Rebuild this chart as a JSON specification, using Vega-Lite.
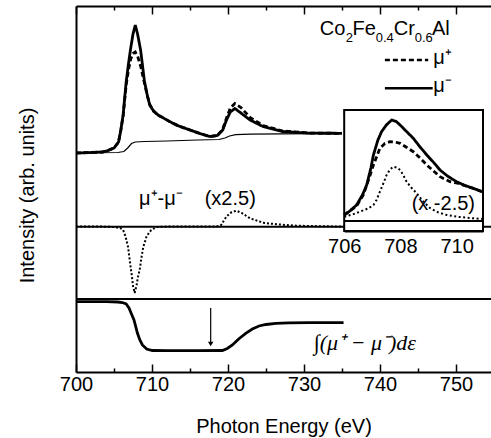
{
  "$schema": "https://vega.github.io/schema/vega-lite/v6.json",
  "width": 415,
  "height": 366,
  "autosize": {"type": "none"},
  "padding": {"left": 76, "top": 6, "right": 0, "bottom": 66},
  "background": "white",
  "config": {
    "view": {"stroke": null},
    "font": "Liberation Sans",
    "axis": {"zindex": 1, "grid": false, "domainColor": "black", "tickColor": "black", "labelColor": "black", "titleColor": "black", "labelFont": "Liberation Sans", "titleFont": "Liberation Sans"}
  },
  "datasets": {
    "mu": [
      {"E":700,"I":219,"pol":"μ⁻"},{"E":702,"I":219.5,"pol":"μ⁻"},{"E":703.5,"I":220,"pol":"μ⁻"},{"E":704.2,"I":221.5,"pol":"μ⁻"},{"E":705,"I":224,"pol":"μ⁻"},{"E":705.6,"I":230,"pol":"μ⁻"},{"E":705.9,"I":242,"pol":"μ⁻"},{"E":706.2,"I":257,"pol":"μ⁻"},{"E":706.6,"I":290,"pol":"μ⁻"},{"E":706.9,"I":308,"pol":"μ⁻"},{"E":707.2,"I":324,"pol":"μ⁻"},{"E":707.5,"I":338,"pol":"μ⁻"},{"E":707.8,"I":347,"pol":"μ⁻"},{"E":708.1,"I":338,"pol":"μ⁻"},{"E":708.5,"I":322,"pol":"μ⁻"},{"E":709,"I":291,"pol":"μ⁻"},{"E":709.4,"I":276,"pol":"μ⁻"},{"E":709.7,"I":267,"pol":"μ⁻"},{"E":710.2,"I":261,"pol":"μ⁻"},{"E":710.8,"I":257,"pol":"μ⁻"},{"E":711.5,"I":254,"pol":"μ⁻"},{"E":712.3,"I":250.5,"pol":"μ⁻"},{"E":713.5,"I":246,"pol":"μ⁻"},{"E":715,"I":242,"pol":"μ⁻"},{"E":716.5,"I":238,"pol":"μ⁻"},{"E":717.6,"I":235.5,"pol":"μ⁻"},{"E":718.6,"I":236.5,"pol":"μ⁻"},{"E":719.3,"I":242,"pol":"μ⁻"},{"E":719.8,"I":252,"pol":"μ⁻"},{"E":720.3,"I":260,"pol":"μ⁻"},{"E":720.9,"I":263.5,"pol":"μ⁻"},{"E":721.7,"I":259,"pol":"μ⁻"},{"E":722.9,"I":252,"pol":"μ⁻"},{"E":724.6,"I":245.5,"pol":"μ⁻"},{"E":727.2,"I":240.5,"pol":"μ⁻"},{"E":730.8,"I":238.8,"pol":"μ⁻"},{"E":735,"I":238.7,"pol":"μ⁻"},
      {"E":700,"I":219,"pol":"μ⁺"},{"E":702,"I":219.5,"pol":"μ⁺"},{"E":703.5,"I":220,"pol":"μ⁺"},{"E":704.2,"I":221.5,"pol":"μ⁺"},{"E":705,"I":224,"pol":"μ⁺"},{"E":705.6,"I":230,"pol":"μ⁺"},{"E":705.9,"I":242,"pol":"μ⁺"},{"E":706.2,"I":256,"pol":"μ⁺"},{"E":706.6,"I":287,"pol":"μ⁺"},{"E":706.9,"I":302,"pol":"μ⁺"},{"E":707.2,"I":313,"pol":"μ⁺"},{"E":707.5,"I":318.5,"pol":"μ⁺"},{"E":707.8,"I":320,"pol":"μ⁺"},{"E":708.1,"I":316,"pol":"μ⁺"},{"E":708.5,"I":306,"pol":"μ⁺"},{"E":709,"I":289,"pol":"μ⁺"},{"E":709.4,"I":276,"pol":"μ⁺"},{"E":709.7,"I":267.5,"pol":"μ⁺"},{"E":710.2,"I":261,"pol":"μ⁺"},{"E":710.8,"I":257,"pol":"μ⁺"},{"E":711.5,"I":254,"pol":"μ⁺"},{"E":712.3,"I":250.5,"pol":"μ⁺"},{"E":713.5,"I":246,"pol":"μ⁺"},{"E":715,"I":242,"pol":"μ⁺"},{"E":716.5,"I":238,"pol":"μ⁺"},{"E":717.6,"I":235.5,"pol":"μ⁺"},{"E":718.6,"I":236.5,"pol":"μ⁺"},{"E":719.3,"I":242.5,"pol":"μ⁺"},{"E":719.8,"I":254,"pol":"μ⁺"},{"E":720.3,"I":264,"pol":"μ⁺"},{"E":720.9,"I":268.5,"pol":"μ⁺"},{"E":721.7,"I":264.5,"pol":"μ⁺"},{"E":722.9,"I":254.5,"pol":"μ⁺"},{"E":724.6,"I":246.5,"pol":"μ⁺"},{"E":727.2,"I":241,"pol":"μ⁺"},{"E":730.8,"I":238.9,"pol":"μ⁺"},{"E":735,"I":238.7,"pol":"μ⁺"}
    ],
    "bg": [
      {"E":700,"I":219},{"E":705.5,"I":219.5},{"E":706.3,"I":220.5},{"E":706.8,"I":224},{"E":707.3,"I":228.5},{"E":707.8,"I":230},{"E":709,"I":230.5},{"E":712,"I":231},{"E":716,"I":232},{"E":718.8,"I":232.5},{"E":719.6,"I":234},{"E":720.2,"I":236},{"E":721,"I":237.3},{"E":723,"I":237.8},{"E":727,"I":238.2},{"E":735,"I":238.7}
    ],
    "diff": [
      {"E":700,"I":145.5},{"E":703,"I":145.5},{"E":705,"I":145},{"E":705.8,"I":144},{"E":706.2,"I":142},{"E":706.5,"I":136},{"E":706.85,"I":125},{"E":707.1,"I":110},{"E":707.3,"I":99},{"E":707.5,"I":86},{"E":707.72,"I":79},{"E":707.95,"I":86},{"E":708.15,"I":95},{"E":708.4,"I":103},{"E":708.6,"I":114},{"E":708.85,"I":125},{"E":709.3,"I":136},{"E":709.9,"I":142},{"E":710.6,"I":145},{"E":712,"I":145.5},{"E":716,"I":145.5},{"E":718.5,"I":145.5},{"E":719.1,"I":147},{"E":719.5,"I":152},{"E":719.8,"I":155.5},{"E":720.4,"I":159.5},{"E":721.1,"I":161.3},{"E":721.8,"I":159},{"E":722.9,"I":153.7},{"E":724.6,"I":149.3},{"E":726.4,"I":147.7},{"E":729,"I":146.3},{"E":732,"I":145.8},{"E":735,"I":145.5}
    ],
    "integ": [
      {"E":700,"I":70.3},{"E":704,"I":70.3},{"E":705.5,"I":70},{"E":706.1,"I":69.5},{"E":706.6,"I":68},{"E":706.97,"I":64},{"E":707.3,"I":58},{"E":707.63,"I":52},{"E":708.08,"I":39},{"E":708.4,"I":32},{"E":708.74,"I":27},{"E":709.3,"I":23},{"E":710.05,"I":21.5},{"E":712,"I":21.3},{"E":716,"I":21.3},{"E":719.26,"I":21.5},{"E":719.9,"I":23.5},{"E":720.58,"I":27},{"E":721.4,"I":33},{"E":722.33,"I":38.7},{"E":723.2,"I":43},{"E":724.08,"I":46},{"E":725,"I":47.5},{"E":726.28,"I":48.7},{"E":728,"I":49.2},{"E":730.66,"I":49.4},{"E":735.2,"I":49.4}
    ],
    "imu": [
      {"E":706,"I":157,"pol":"μ⁻"},{"E":706.2,"I":161,"pol":"μ⁻"},{"E":706.44,"I":167,"pol":"μ⁻"},{"E":706.65,"I":177,"pol":"μ⁻"},{"E":706.8,"I":187,"pol":"μ⁻"},{"E":706.95,"I":204,"pol":"μ⁻"},{"E":707.04,"I":217,"pol":"μ⁻"},{"E":707.2,"I":232,"pol":"μ⁻"},{"E":707.33,"I":240.3,"pol":"μ⁻"},{"E":707.5,"I":247,"pol":"μ⁻"},{"E":707.69,"I":252,"pol":"μ⁻"},{"E":707.85,"I":250.5,"pol":"μ⁻"},{"E":707.99,"I":247,"pol":"μ⁻"},{"E":708.2,"I":241,"pol":"μ⁻"},{"E":708.46,"I":233.7,"pol":"μ⁻"},{"E":708.7,"I":225,"pol":"μ⁻"},{"E":708.94,"I":217,"pol":"μ⁻"},{"E":709.2,"I":209,"pol":"μ⁻"},{"E":709.41,"I":202,"pol":"μ⁻"},{"E":709.7,"I":195.5,"pol":"μ⁻"},{"E":710,"I":190.3,"pol":"μ⁻"},{"E":710.3,"I":186.5,"pol":"μ⁻"},{"E":710.59,"I":183.7,"pol":"μ⁻"},{"E":710.94,"I":180,"pol":"μ⁻"},
      {"E":706,"I":157,"pol":"μ⁺"},{"E":706.44,"I":166,"pol":"μ⁺"},{"E":706.68,"I":177,"pol":"μ⁺"},{"E":706.9,"I":195,"pol":"μ⁺"},{"E":707.04,"I":207,"pol":"μ⁺"},{"E":707.27,"I":223.7,"pol":"μ⁺"},{"E":707.45,"I":228.5,"pol":"μ⁺"},{"E":707.63,"I":230.3,"pol":"μ⁺"},{"E":707.8,"I":230,"pol":"μ⁺"},{"E":707.99,"I":228.7,"pol":"μ⁺"},{"E":708.2,"I":225,"pol":"μ⁺"},{"E":708.46,"I":220.3,"pol":"μ⁺"},{"E":708.7,"I":214,"pol":"μ⁺"},{"E":708.94,"I":207,"pol":"μ⁺"},{"E":709.2,"I":200.5,"pol":"μ⁺"},{"E":709.41,"I":195.3,"pol":"μ⁺"},{"E":709.77,"I":190.3,"pol":"μ⁺"},{"E":710,"I":189,"pol":"μ⁺"},{"E":710.3,"I":186.3,"pol":"μ⁺"},{"E":710.59,"I":183.6,"pol":"μ⁺"},{"E":710.94,"I":180,"pol":"μ⁺"}
    ],
    "idiff": [
      {"E":706,"I":155.3},{"E":706.3,"I":157.5},{"E":706.56,"I":160.3},{"E":706.85,"I":163.5},{"E":707.04,"I":167},{"E":707.15,"I":172},{"E":707.27,"I":180.3},{"E":707.4,"I":189},{"E":707.51,"I":197},{"E":707.63,"I":202.5},{"E":707.75,"I":205.3},{"E":707.87,"I":204.5},{"E":707.99,"I":202},{"E":708.1,"I":197},{"E":708.22,"I":190.3},{"E":708.4,"I":184},{"E":708.58,"I":178.7},{"E":708.8,"I":171},{"E":709.05,"I":164},{"E":709.35,"I":159.5},{"E":709.65,"I":157},{"E":710.1,"I":155},{"E":710.59,"I":153.7},{"E":710.94,"I":153}
    ]
  },
  "layer": [
    {
      "layer": [
        {
          "data": {"values": [{"base": 145.3}, {"base": 73}]},
          "mark": {"type": "rule", "strokeWidth": 2, "color": "black"},
          "encoding": {"y": {"field": "base", "type": "quantitative", "scale": {"domain": [0, 366]},
            "axis": {"orient": "left", "ticks": false, "labels": false, "domain": true, "domainWidth": 2, "title": "Intensity (arb. units)", "titleFontSize": 20, "titleFontWeight": "normal", "titlePadding": 39, "titleY": 189}}}
        },
        {
          "data": {"name": "bg"},
          "mark": {"type": "line", "strokeWidth": 1.2, "color": "black"},
          "encoding": {
            "x": {"field": "E", "type": "quantitative", "scale": {"domain": [700, 754.6], "nice": false, "zero": false},
              "axis": {"orient": "bottom", "values": [700,705,710,715,720,725,730,735,740,745,750], "labelExpr": "datum.value % 10 == 0 ? datum.label : ''", "tickSize": {"condition": {"test": "datum.value % 10 == 0", "value": -8}, "value": -4}, "tickWidth": 1.5, "domainWidth": 2, "labelFontSize": 20, "labelPadding": 10, "labelFlush": false, "labelOverlap": false, "title": "Photon Energy (eV)", "titleFontSize": 20, "titleFontWeight": "normal", "titlePadding": 18}},
            "y": {"field": "I", "type": "quantitative", "scale": {"domain": [0, 366]}}
          }
        },
        {
          "data": {"name": "mu"},
          "mark": {"type": "line", "strokeWidth": 2.8, "color": "black"},
          "encoding": {
            "x": {"field": "E", "type": "quantitative", "scale": {"domain": [700, 754.6], "nice": false, "zero": false}, "axis": null},
            "y": {"field": "I", "type": "quantitative", "scale": {"domain": [0, 366]}},
            "strokeDash": {"field": "pol", "type": "nominal", "scale": {"domain": ["μ⁺", "μ⁻"], "range": [[5, 3], [1, 0]]}, "legend": null}
          }
        },
        {
          "data": {"name": "diff"},
          "mark": {"type": "line", "strokeWidth": 2, "strokeDash": [2, 2], "color": "black"},
          "encoding": {
            "x": {"field": "E", "type": "quantitative", "scale": {"domain": [700, 754.6], "nice": false, "zero": false},
              "axis": {"orient": "top", "values": [700,705,710,715,720,725,730,735,740,745,750], "labels": false, "tickSize": {"condition": {"test": "datum.value % 10 == 0", "value": -8}, "value": -4}, "tickWidth": 1.5, "domainWidth": 2, "title": null}},
            "y": {"field": "I", "type": "quantitative", "scale": {"domain": [0, 366]}}
          }
        },
        {
          "data": {"name": "integ"},
          "mark": {"type": "line", "strokeWidth": 2.8, "color": "black"},
          "encoding": {
            "x": {"field": "E", "type": "quantitative", "scale": {"domain": [700, 754.6], "nice": false, "zero": false}, "axis": null},
            "y": {"field": "I", "type": "quantitative", "scale": {"domain": [0, 366]}}
          }
        },
        {
          "data": {"values": [{}]},
          "mark": {"type": "rule", "strokeWidth": 1.2, "color": "black"},
          "encoding": {
            "x": {"datum": 717.72, "type": "quantitative", "scale": {"domain": [700, 754.6], "nice": false, "zero": false}, "axis": null},
            "y": {"datum": 64, "type": "quantitative", "scale": {"domain": [0, 366]}},
            "y2": {"datum": 29}
          }
        },
        {
          "data": {"values": [{}]},
          "mark": {"type": "point", "shape": "triangle-down", "filled": true, "size": 30, "color": "black", "opacity": 1},
          "encoding": {
            "x": {"datum": 717.72, "type": "quantitative", "scale": {"domain": [700, 754.6], "nice": false, "zero": false}, "axis": null},
            "y": {"datum": 28, "type": "quantitative", "scale": {"domain": [0, 366]}}
          }
        },
        {
          "data": {"values": [{}]},
          "mark": {"type": "rule", "strokeWidth": 2.5, "strokeDash": [5, 3], "color": "black"},
          "encoding": {
            "x": {"datum": 740.64, "type": "quantitative", "scale": {"domain": [700, 754.6], "nice": false, "zero": false}, "axis": null},
            "x2": {"datum": 746.34},
            "y": {"datum": 312, "type": "quantitative", "scale": {"domain": [0, 366]}}
          }
        },
        {
          "data": {"values": [{}]},
          "mark": {"type": "rule", "strokeWidth": 2.5, "color": "black"},
          "encoding": {
            "x": {"datum": 740.64, "type": "quantitative", "scale": {"domain": [700, 754.6], "nice": false, "zero": false}, "axis": null},
            "x2": {"datum": 746.93},
            "y": {"datum": 283.7, "type": "quantitative", "scale": {"domain": [0, 366]}}
          }
        },
        {
          "data": {"values": [{}]},
          "mark": {"type": "text", "text": "μ⁺", "fontSize": 20, "align": "left", "baseline": "alphabetic", "color": "black"},
          "encoding": {
            "x": {"datum": 747.0, "type": "quantitative", "scale": {"domain": [700, 754.6], "nice": false, "zero": false}, "axis": null},
            "y": {"datum": 308, "type": "quantitative", "scale": {"domain": [0, 366]}}
          }
        },
        {
          "data": {"values": [{}]},
          "mark": {"type": "text", "text": "μ⁻", "fontSize": 20, "align": "left", "baseline": "alphabetic", "color": "black"},
          "encoding": {
            "x": {"datum": 747.0, "type": "quantitative", "scale": {"domain": [700, 754.6], "nice": false, "zero": false}, "axis": null},
            "y": {"datum": 280, "type": "quantitative", "scale": {"domain": [0, 366]}}
          }
        },
        {
          "data": {"values": [{}]},
          "mark": {"type": "text", "text": "μ⁺-μ⁻", "fontSize": 20, "align": "left", "baseline": "alphabetic", "color": "black"},
          "encoding": {
            "x": {"datum": 708.3, "type": "quantitative", "scale": {"domain": [700, 754.6], "nice": false, "zero": false}, "axis": null},
            "y": {"datum": 167, "type": "quantitative", "scale": {"domain": [0, 366]}}
          }
        },
        {
          "data": {"values": [{}]},
          "mark": {"type": "text", "text": "(x2.5)", "fontSize": 20, "align": "left", "baseline": "alphabetic", "color": "black"},
          "encoding": {
            "x": {"datum": 716.93, "type": "quantitative", "scale": {"domain": [700, 754.6], "nice": false, "zero": false}, "axis": null},
            "y": {"datum": 167, "type": "quantitative", "scale": {"domain": [0, 366]}}
          }
        },
        {
          "data": {"values": [{}]},
          "mark": {"type": "text", "text": "∫(μ⁺ − μ⁻)dε", "font": "Liberation Serif", "fontStyle": "italic", "fontSize": 22, "align": "center", "baseline": "alphabetic", "color": "black"},
          "encoding": {
            "x": {"datum": 738.0, "type": "quantitative", "scale": {"domain": [700, 754.6], "nice": false, "zero": false}, "axis": null},
            "y": {"datum": 22, "type": "quantitative", "scale": {"domain": [0, 366]}}
          }
        },
        {
          "data": {"values": [{}]},
          "mark": {"type": "text", "text": "Co", "fontSize": 20, "align": "left", "baseline": "alphabetic", "color": "black"},
          "encoding": {
            "x": {"datum": 732.07, "type": "quantitative", "scale": {"domain": [700, 754.6], "nice": false, "zero": false}, "axis": null},
            "y": {"datum": 337, "type": "quantitative", "scale": {"domain": [0, 366]}}
          }
        },
        {
          "data": {"values": [{}]},
          "mark": {"type": "text", "text": "2", "fontSize": 13, "align": "left", "baseline": "alphabetic", "color": "black"},
          "encoding": {
            "x": {"datum": 735.49, "type": "quantitative", "scale": {"domain": [700, 754.6], "nice": false, "zero": false}, "axis": null},
            "y": {"datum": 330.5, "type": "quantitative", "scale": {"domain": [0, 366]}}
          }
        },
        {
          "data": {"values": [{}]},
          "mark": {"type": "text", "text": "Fe", "fontSize": 20, "align": "left", "baseline": "alphabetic", "color": "black"},
          "encoding": {
            "x": {"datum": 736.37, "type": "quantitative", "scale": {"domain": [700, 754.6], "nice": false, "zero": false}, "axis": null},
            "y": {"datum": 337, "type": "quantitative", "scale": {"domain": [0, 366]}}
          }
        },
        {
          "data": {"values": [{}]},
          "mark": {"type": "text", "text": "0.4", "fontSize": 13, "align": "left", "baseline": "alphabetic", "color": "black"},
          "encoding": {
            "x": {"datum": 739.43, "type": "quantitative", "scale": {"domain": [700, 754.6], "nice": false, "zero": false}, "axis": null},
            "y": {"datum": 330.5, "type": "quantitative", "scale": {"domain": [0, 366]}}
          }
        },
        {
          "data": {"values": [{}]},
          "mark": {"type": "text", "text": "Cr", "fontSize": 20, "align": "left", "baseline": "alphabetic", "color": "black"},
          "encoding": {
            "x": {"datum": 741.8, "type": "quantitative", "scale": {"domain": [700, 754.6], "nice": false, "zero": false}, "axis": null},
            "y": {"datum": 337, "type": "quantitative", "scale": {"domain": [0, 366]}}
          }
        },
        {
          "data": {"values": [{}]},
          "mark": {"type": "text", "text": "0.6", "fontSize": 13, "align": "left", "baseline": "alphabetic", "color": "black"},
          "encoding": {
            "x": {"datum": 744.57, "type": "quantitative", "scale": {"domain": [700, 754.6], "nice": false, "zero": false}, "axis": null},
            "y": {"datum": 330.5, "type": "quantitative", "scale": {"domain": [0, 366]}}
          }
        },
        {
          "data": {"values": [{}]},
          "mark": {"type": "text", "text": "Al", "fontSize": 20, "align": "left", "baseline": "alphabetic", "color": "black"},
          "encoding": {
            "x": {"datum": 746.84, "type": "quantitative", "scale": {"domain": [700, 754.6], "nice": false, "zero": false}, "axis": null},
            "y": {"datum": 337, "type": "quantitative", "scale": {"domain": [0, 366]}}
          }
        }
      ],
      "resolve": {"axis": {"x": "independent"}}
    },
    {
      "layer": [
        {
          "data": {"values": [{}]},
          "mark": {"type": "rect", "fill": "white", "stroke": "black", "strokeWidth": 2},
          "encoding": {
            "x": {"datum": 706, "type": "quantitative", "scale": {"domain": [706, 710.94], "range": [268.2, 407], "nice": false, "zero": false}, "axis": null},
            "x2": {"datum": 710.94},
            "y": {"datum": 141, "type": "quantitative", "scale": {"domain": [0, 366]}},
            "y2": {"datum": 262}
          }
        },
        {
          "data": {"values": [{}]},
          "mark": {"type": "rule", "strokeWidth": 2, "color": "black"},
          "encoding": {
            "x": {"datum": 706, "type": "quantitative", "scale": {"domain": [706, 710.94], "range": [268.2, 407], "nice": false, "zero": false}, "axis": null},
            "x2": {"datum": 710.94},
            "y": {"datum": 151, "type": "quantitative", "scale": {"domain": [0, 366]}}
          }
        },
        {
          "data": {"name": "imu"},
          "mark": {"type": "line", "strokeWidth": 2.8, "color": "black"},
          "encoding": {
            "x": {"field": "E", "type": "quantitative", "scale": {"domain": [706, 710.94], "range": [268.2, 407], "nice": false, "zero": false},
              "axis": {"orient": "bottom", "offset": -141, "values": [706,707,708,709,710], "labelExpr": "datum.value % 2 == 0 ? datum.label : ''", "tickSize": {"condition": {"test": "datum.value % 2 == 0", "value": -7}, "value": -4}, "tickWidth": 1.5, "domainWidth": 2, "labelFontSize": 20, "labelPadding": 12, "labelFlush": false, "labelOverlap": false, "title": null}},
            "y": {"field": "I", "type": "quantitative", "scale": {"domain": [0, 366]}},
            "strokeDash": {"field": "pol", "type": "nominal", "scale": {"domain": ["μ⁺", "μ⁻"], "range": [[5, 3], [1, 0]]}, "legend": null}
          }
        },
        {
          "data": {"name": "idiff"},
          "mark": {"type": "line", "strokeWidth": 2, "strokeDash": [2, 2.5], "color": "black"},
          "encoding": {
            "x": {"field": "E", "type": "quantitative", "scale": {"domain": [706, 710.94], "range": [268.2, 407], "nice": false, "zero": false},
              "axis": {"orient": "top", "offset": -104, "values": [706,707,708,709,710], "labels": false, "tickSize": {"condition": {"test": "datum.value % 2 == 0", "value": -7}, "value": -4}, "tickWidth": 1.5, "domainWidth": 2, "title": null}},
            "y": {"field": "I", "type": "quantitative", "scale": {"domain": [0, 366]}}
          }
        },
        {
          "data": {"values": [{}]},
          "mark": {"type": "text", "text": "(x -2.5)", "fontSize": 20, "align": "left", "baseline": "alphabetic", "color": "black"},
          "encoding": {
            "x": {"datum": 708.4, "type": "quantitative", "scale": {"domain": [706, 710.94], "range": [268.2, 407], "nice": false, "zero": false}, "axis": null},
            "y": {"datum": 162, "type": "quantitative", "scale": {"domain": [0, 366]}}
          }
        }
      ],
      "resolve": {"axis": {"x": "independent"}}
    }
  ],
  "resolve": {"scale": {"x": "independent"}}
}
